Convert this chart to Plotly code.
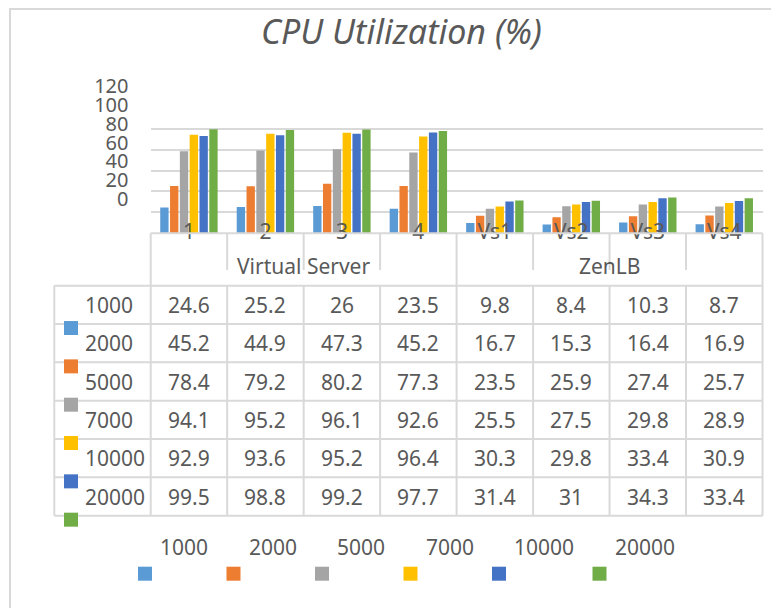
import plotly.graph_objects as go

# ---------------- data ----------------
categories = ["1", "2", "3", "4", "Vs1", "Vs2", "Vs3", "Vs4"]
groups = ["Virtual Server", "ZenLB"]
group_sizes = [4, 4]
series_names = ["1000", "2000", "5000", "7000", "10000", "20000"]
s1000 = [24.6, 25.2, 26, 23.5, 9.8, 8.4, 10.3, 8.7]
s2000 = [45.2, 44.9, 47.3, 45.2, 16.7, 15.3, 16.4, 16.9]
s5000 = [78.4, 79.2, 80.2, 77.3, 23.5, 25.9, 27.4, 25.7]
s7000 = [94.1, 95.2, 96.1, 92.6, 25.5, 27.5, 29.8, 28.9]
s10000 = [92.9, 93.6, 95.2, 96.4, 30.3, 29.8, 33.4, 30.9]
s20000 = [99.5, 98.8, 99.2, 97.7, 31.4, 31, 34.3, 33.4]
y_ticks = [0, 20, 40, 60, 80, 100, 120]
title_text = "CPU Utilization (%)"

series_values = [s1000, s2000, s5000, s7000, s10000, s20000]
colors = ["#5B9BD5", "#ED7D31", "#A5A5A5", "#FFC000", "#4472C4", "#70AD47"]

# the page body has an 8px margin, so the figure starts at (8, 8)
OFF = 8
W, H = 771, 600
FONT = "Noto Sans"
TXT = "#595959"
GRID = "#D9D9D9"


def px(x):
    return (x - OFF) / W


def py(y):
    return 1 - (y - OFF) / H


# table geometry (screen pixels)
T_LEFT = 54.3
T_X0 = 150.7
T_X1 = 762.5
T_TOP = 233.3
HDR_BOT = 285.7
ROW_H = 38.33
n_cat = len(categories)
col_w = (T_X1 - T_X0) / n_cat
n_rows = len(series_names)
T_BOT = HDR_BOT + ROW_H * n_rows

fig = go.Figure()
for name, vals, c in zip(series_names, series_values, colors):
    fig.add_trace(go.Bar(x=categories, y=vals, name=name, marker_color=c,
                         marker_line_width=0, showlegend=False,
                         hoverinfo="x+y+name"))

# invisible helper trace so the (offset) value-axis labels are drawn
fig.add_trace(go.Scatter(x=[0.5, 0.5], y=[y_ticks[0], y_ticks[-1]],
                         xaxis="x2", yaxis="y2", mode="markers",
                         marker=dict(opacity=0, size=1), hoverinfo="skip",
                         showlegend=False))

shapes = []
annotations = []


def line(x0, y0, x1, y1, color=GRID, w=2):
    shapes.append(dict(type="line", xref="paper", yref="paper",
                       x0=px(x0), y0=py(y0), x1=px(x1), y1=py(y1),
                       line=dict(color=color, width=w)))


def text(t, x, y, xanchor="center", size=21, **kw):
    annotations.append(dict(text=t, x=px(x), y=py(y), xref="paper", yref="paper",
                            showarrow=False, xanchor=xanchor, yanchor="middle",
                            font=dict(family=FONT, size=size, color=TXT, **kw)))


# outer frame (top and left)
line(9, 9, 779, 9)
line(10, 9, 10, 608)

# table lines
line(T_X0, T_TOP, T_X1, T_TOP)
for r in range(n_rows + 1):
    yy = HDR_BOT + r * ROW_H
    line(T_LEFT, yy, T_X1, yy)
line(T_LEFT, HDR_BOT, T_LEFT, T_BOT)
bounds = [0]
for g in group_sizes:
    bounds.append(bounds[-1] + g)
for k in range(n_cat + 1):
    xx = T_X0 + k * col_w
    if k in bounds:
        line(xx, T_TOP, xx, T_BOT)
    else:
        line(xx, T_TOP, xx, 270)
        line(xx, HDR_BOT, xx, T_BOT)

# group labels
for gi, g in enumerate(groups):
    cx = T_X0 + (bounds[gi] + bounds[gi + 1]) / 2 * col_w
    text(g, cx, 266)

# rows: series names, legend keys, values
for r, (name, vals, c) in enumerate(zip(series_names, series_values, colors)):
    yc = HDR_BOT + (r + 0.5) * ROW_H
    text(name, 82.7, yc, xanchor="left")
    ky = HDR_BOT + (r + 1) * ROW_H + 4
    shapes.append(dict(type="rect", xref="paper", yref="paper",
                       x0=px(64), x1=px(78), y0=py(ky - 7), y1=py(ky + 7),
                       fillcolor=c, line=dict(width=0)))
    for k, v in enumerate(vals):
        text(f"{v:g}", T_X0 + (k + 0.5) * col_w, yc)

# bottom legend
lx = 138
for name, c in zip(series_names, colors):
    shapes.append(dict(type="rect", xref="paper", yref="paper",
                       x0=px(lx), x1=px(lx + 14), y0=py(580.7), y1=py(566.7),
                       fillcolor=c, line=dict(width=0)))
    text(name, lx + 20, 546.7, xanchor="left")
    lx += 20 + 12 * len(name) + 20.5

# title
text(title_text, 402, 31, size=34, style="italic")

fig.update_layout(
    template="plotly_white",
    width=W, height=H, autosize=False,
    margin=dict(l=0, r=0, t=0, b=0, pad=0, autoexpand=False),
    paper_bgcolor="white", plot_bgcolor="rgba(0,0,0,0)",
    bargap=0.23, bargroupgap=0.15, barmode="group", showlegend=False,
    font=dict(family=FONT, color=TXT),
    xaxis=dict(domain=[px(T_X0), px(T_X1)], showgrid=False, showline=False,
               zeroline=False, ticks="", tickfont=dict(size=21, color=TXT),
               ticklabelstandoff=-16, automargin=False, fixedrange=True),
    yaxis=dict(domain=[py(T_TOP), py(107.7)], range=[0, 120],
               tickvals=y_ticks, showticklabels=False, showgrid=True,
               gridcolor=GRID, gridwidth=2, zeroline=False, showline=False,
               automargin=False, fixedrange=True),
    xaxis2=dict(domain=[px(T_X0), px(T_X1)], anchor="y2", visible=False,
                range=[0, 1], automargin=False, fixedrange=True),
    yaxis2=dict(domain=[py(199), py(86)], range=[0, 120], anchor="free",
                position=px(128.5), tickvals=y_ticks, showgrid=False,
                zeroline=False, showline=False, ticks="",
                tickfont=dict(size=20, color=TXT), automargin=False,
                fixedrange=True),
    shapes=shapes, annotations=annotations,
)

fig.write_html("out.html")
